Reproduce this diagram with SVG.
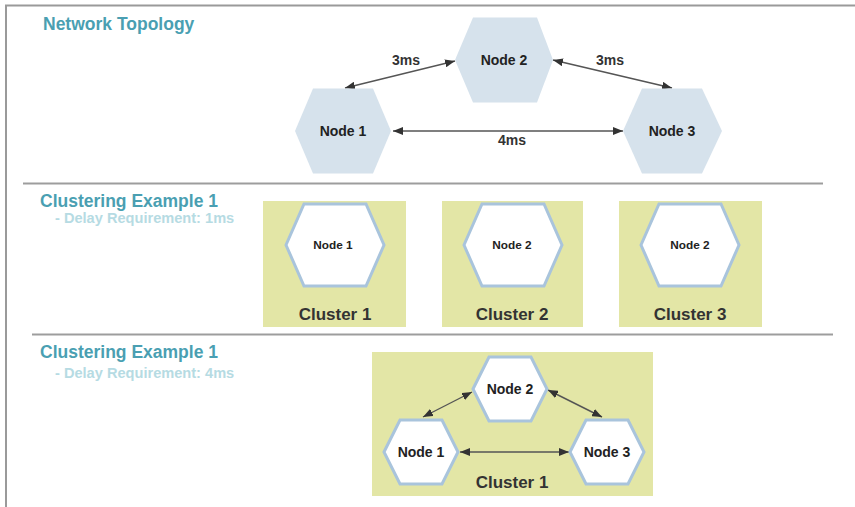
<svg xmlns="http://www.w3.org/2000/svg" width="855" height="507" viewBox="0 0 855 507">
  <style>
    .frame { stroke: #9a9a9a; stroke-width: 2; fill: none; }
    .sep { stroke: #9d9d9d; stroke-width: 2; fill: none; }
    .title { font-family: "Liberation Sans", Arial, sans-serif; font-weight: bold; font-size: 17.5px; fill: #4a9fb2; }
    .sub { font-family: "Liberation Sans", Arial, sans-serif; font-weight: bold; font-size: 14.6px; fill: #b6dbe3; }
    .hex-solid { fill: #d6e2ec; }
    .hex-open { fill: #ffffff; stroke: #a9c4dc; stroke-width: 3; stroke-linejoin: miter; }
    .cluster { fill: #e3e6a6; }
    .label { font-family: "Liberation Sans", Arial, sans-serif; font-weight: bold; fill: #222222; text-anchor: middle; }
    .nl { font-size: 14px; }
    .nm { font-size: 11.8px; }
    .cl { font-family: "Liberation Sans", Arial, sans-serif; font-weight: bold; font-size: 17px; fill: #333333; text-anchor: middle; }
    .delay { font-family: "Liberation Sans", Arial, sans-serif; font-weight: bold; font-size: 14px; fill: #333333; text-anchor: middle; }
    .link { stroke: #555555; stroke-width: 1.4; fill: none; marker-start: url(#tip); marker-end: url(#tip); }
  </style>
  <defs>
    <marker id="tip" viewBox="0 0 10 8" refX="10" refY="4" markerWidth="10" markerHeight="8" markerUnits="userSpaceOnUse" orient="auto-start-reverse">
      <path d="M0,0 L10,4 L0,8 z" fill="#333333"/>
    </marker>
  </defs>

  <!-- page frame and section dividers -->
  <g id="frame">
    <path class="frame" d="M6,507 V5.5 H855"/>
    <line class="sep" x1="23" y1="183.5" x2="823" y2="183.5"/>
    <line class="sep" x1="32" y1="334.5" x2="833" y2="334.5"/>
  </g>

  <!-- section headings -->
  <g id="headings">
    <text class="title" x="43" y="30">Network Topology</text>
    <text class="title" x="40" y="207">Clustering Example 1</text>
    <text class="sub" x="55" y="223">- Delay Requirement: 1ms</text>
    <text class="title" x="40" y="358">Clustering Example 1</text>
    <text class="sub" x="55" y="378">- Delay Requirement: 4ms</text>
  </g>

  <!-- cluster backgrounds -->
  <g id="clusters">
    <g id="ex1-cluster1">
      <rect class="cluster" x="263" y="201" width="143" height="126"/>
      <text class="cl" x="335" y="320">Cluster 1</text>
    </g>
    <g id="ex1-cluster2">
      <rect class="cluster" x="442" y="201" width="141" height="126"/>
      <text class="cl" x="512" y="320">Cluster 2</text>
    </g>
    <g id="ex1-cluster3">
      <rect class="cluster" x="619" y="201" width="143" height="126"/>
      <text class="cl" x="690" y="320">Cluster 3</text>
    </g>
    <g id="ex2-cluster1">
      <rect class="cluster" x="372" y="352" width="281" height="144"/>
      <text class="cl" x="512" y="488">Cluster 1</text>
    </g>
  </g>

  <!-- connectors -->
  <g id="connectors">
    <line class="link" x1="345" y1="88" x2="455" y2="61"/>
    <line class="link" x1="393" y1="131" x2="623" y2="131"/>
    <line class="link" x1="553" y1="60" x2="672" y2="88"/>
    <text class="delay" x="406" y="65">3ms</text>
    <text class="delay" x="610" y="65">3ms</text>
    <text class="delay" x="512" y="145">4ms</text>

    <line class="link" x1="423" y1="417" x2="472" y2="392"/>
    <line class="link" x1="460" y1="452" x2="569" y2="452"/>
    <line class="link" x1="548" y1="390" x2="602" y2="417"/>
  </g>

  <!-- network topology nodes -->
  <g id="topo-node1">
    <path class="hex-solid" d="M295,131 L313,88.5 L373,88.5 L391,131 L373,173.5 L313,173.5 Z"/>
    <text class="label nl" x="343" y="136">Node 1</text>
  </g>
  <g id="topo-node2">
    <path class="hex-solid" d="M455,60 L473,17.5 L537,17.5 L553,60 L537,102.5 L473,102.5 Z"/>
    <text class="label nl" x="504" y="65">Node 2</text>
  </g>
  <g id="topo-node3">
    <path class="hex-solid" d="M623,131 L642,88.5 L702,88.5 L722,131 L702,173.5 L642,173.5 Z"/>
    <text class="label nl" x="672" y="136">Node 3</text>
  </g>

  <!-- example 1 nodes -->
  <g id="ex1-node1">
    <path class="hex-open" d="M286,245 L304,204 L366,204 L384,245 L366,286 L304,286 Z"/>
    <text class="label nm" x="333" y="249">Node 1</text>
  </g>
  <g id="ex1-node2">
    <path class="hex-open" d="M464,245 L482,204 L544,204 L562,245 L544,286 L482,286 Z"/>
    <text class="label nm" x="512" y="249">Node 2</text>
  </g>
  <g id="ex1-node3">
    <path class="hex-open" d="M641,245 L659,204 L721,204 L739,245 L721,286 L659,286 Z"/>
    <text class="label nm" x="690" y="249">Node 2</text>
  </g>

  <!-- example 2 nodes -->
  <g id="ex2-node1">
    <path class="hex-open" d="M384,452 L400,420 L442,420 L458,452 L442,484 L400,484 Z"/>
    <text class="label nl" x="421" y="457">Node 1</text>
  </g>
  <g id="ex2-node2">
    <path class="hex-open" d="M473,389 L489,357 L531,357 L547,389 L531,421 L489,421 Z"/>
    <text class="label nl" x="510" y="394">Node 2</text>
  </g>
  <g id="ex2-node3">
    <path class="hex-open" d="M570,452 L586,420 L628,420 L644,452 L628,484 L586,484 Z"/>
    <text class="label nl" x="607" y="457">Node 3</text>
  </g>
</svg>
